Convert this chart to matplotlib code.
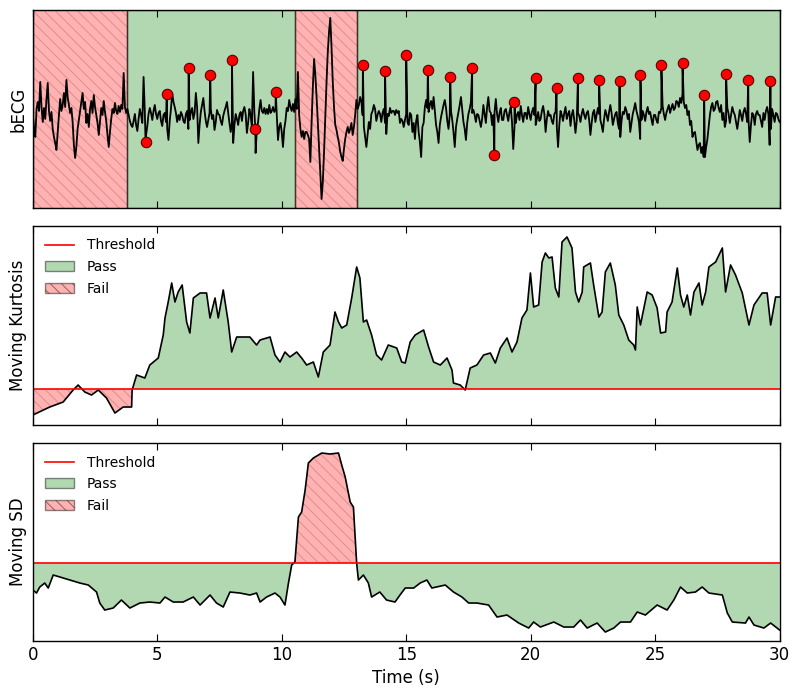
import numpy as np
import matplotlib
matplotlib.use('Agg')
import matplotlib.pyplot as plt
from matplotlib.patches import Patch
from matplotlib.lines import Line2D

# bECG samples, 0.05 s apart (0 .. 30 s), one row per second
ecg_v = [
    0.3, -1.2, -2.0, 0.8, 1.5, 0.6, 3.5, 1.0, -0.5, 0.9, -0.2, 1.8, 3.4, 0.6, -0.4, 0.5, -1.2, -2.0, -2.6, -3.3,
    -1.5, 0.2, 1.8, 0.6, 1.2, 2.4, 1.0, 3.7, 2.0, 1.2, 0.4, 0.9, -0.5, -2.8, -4.1, -3.0, -1.2, -0.3, 0.6, 1.5,
    2.4, 0.8, 1.5, -0.6, 0.3, -1.0, 0.8, 1.6, 0.4, 2.2, 1.0, 0.2, -0.6, -1.8, -0.4, 0.9, 0.2, 1.6, 0.5, -0.4,
    -1.8, -3.0, -1.5, -0.2, 0.8, 0.4, 1.4, 0.6, 0.3, 1.1, 0.5, 1.2, 0.8, 4.4, 1.0, 0.4, 0.8, 0.2, -0.4, -0.8,
    -1.0, -0.4, 0.3, -0.8, -1.4, -0.2, 0.8, 0.2, -0.6, 4.0, 0.5, -1.8, -0.9, 0.3, 0.9, 0.4, -0.3, 0.6, 1.2, 0.3,
    -0.2, 0.4, 0.6, -0.4, -0.9, 0.2, 0.4, -0.5, -1.2, -2.3, -0.4, 0.8, 2.4, 1.5, 1.0, 0.4, -0.5, 0.2, -0.3, 0.5,
    0.2, -0.4, -0.6, 0.3, 0.6, -1.2, -0.3, 0.5, 0.9, -0.2, 0.4, 2.4, 1.0, -2.6, -0.8, 0.5, 1.2, 1.9, 0.6, -0.4,
    -1.0, -0.3, 0.4, 0.8, -0.2, 0.2, -1.3, -0.5, 0.7, 0.3, 0.2, -0.4, -0.8, 0.1, 0.6, 1.0, 1.5, 0.4, -0.6, -1.5,
    -0.5, -2.6, -0.8, 0.3, -0.2, -0.8, 0.2, 0.5, -0.4, 0.6, 1.0, 0.3, -1.6, -0.6, 0.8, 0.2, -1.0, 4.5, 0.5, -3.6,
    -1.2, -0.5, 0.8, 1.7, 0.6, 0.4, 0.9, 0.3, 0.8, 0.3, 1.2, 0.4, 0.6, 1.0, 0.5, 0.8, 0.2, -2.3, -1.0, -0.6,
    -1.5, -3.0, -1.2, -0.4, 0.9, 0.6, 1.7, 1.0, 0.6, 1.3, 0.5, 1.8, 0.8, 4.5, 0.2, -1.2, -2.0, -1.4, -2.2, -1.5,
    -1.5, -1.8, -2.2, -4.5, -0.5, 3.0, 5.8, 4.2, 2.0, -0.5, -3.0, -5.5, -8.2, -6.5, -3.5, 0.0, 3.5, 6.5, 8.5, 9.9,
    7.0, 3.5, 1.0, -0.8, -1.3, -2.0, -2.6, -3.5, -4.0, -4.4, -3.2, -2.2, -1.5, -1.0, -1.6, -1.2, -0.6, -1.8, -1.0, 0.2,
    1.7, 0.8, 1.2, 2.0, 1.5, 0.2, -1.0, -2.0, -3.0, -1.8, -0.5, -1.2, 0.3, 0.6, 1.2, 0.8, -0.4, 0.2, 0.6, 0.3,
    -0.5, 0.4, 0.8, -0.6, -1.7, 0.3, 0.1, 0.9, 0.4, 0.6, 0.6, 0.2, 0.7, 0.4, 0.6, -0.6, -0.2, -0.4, -1.0, -0.3,
    0.3, -0.5, -0.8, 0.4, 0.2, -1.5, -0.6, -2.2, -0.4, 0.2, -1.5, -2.5, -4.0, -1.0, -0.6, 1.0, 1.7, 0.9, 0.5, 1.2,
    1.6, 0.8, 2.0, 0.6, -0.8, -1.5, -2.6, -0.8, 0.0, 0.6, 1.2, 1.7, 0.9, -0.4, -1.2, 0.2, 0.6, -0.3, -1.5, -3.0,
    -1.0, -0.2, 0.5, 1.2, 2.0, 0.8, -0.5, -1.2, -2.3, -0.6, 0.3, 0.8, 1.5, 0.4, 0.7, 0.2, -0.5, 0.3, 0.2, -0.4,
    -1.0, -0.2, 1.2, 0.3, -0.6, 1.0, 2.0, 0.6, 0.4, -0.8, 0.2, 0.5, 1.8, 0.3, -0.5, 0.4, 0.9, -0.3, -0.3, 0.6,
    0.8, 0.2, -0.4, 0.5, 1.0, -0.5, -3.2, -1.0, -0.6, 0.2, 0.5, -0.3, 1.1, 0.2, -0.5, 0.4, 0.4, -0.2, 1.0, 0.3,
    -0.3, 0.5, 0.9, 0.2, -0.8, -0.2, 0.5, -0.4, -0.2, 0.6, 1.1, 0.3, -1.5, -0.2, 0.6, 0.1, 0.2, -0.4, -0.7, 0.3,
    0.5, -1.0, -3.0, -0.8, 0.6, 0.2, -0.4, 0.4, 1.0, -0.2, 0.3, 0.6, -0.9, 0.2, 0.7, -0.3, -1.6, -0.4, 0.4, 0.1,
    -0.5, 0.3, 0.8, 0.2, -0.2, 0.4, 0.6, -0.3, -1.8, -0.6, 0.4, 0.7, -0.5, 0.2, 0.9, 0.3, -0.3, -0.8, -1.5, -0.2,
    0.7, 0.2, -0.4, 0.5, 1.2, 0.4, -0.8, -0.2, 0.3, 0.5, -0.6, -1.2, -2.0, -0.4, 0.5, 0.3, 1.0, 0.6, -0.2, 0.3,
    -1.5, -0.6, 0.3, 0.8, 1.4, 0.6, 0.1, -0.5, -2.2, -0.3, 0.6, 0.2, -0.4, 0.5, 1.0, 0.3, 0.5, -0.2, -0.8, 0.2,
    0.2, -0.3, -0.6, 0.5, 0.4, 0.9, 1.1, 0.3, -0.3, 0.4, 0.8, 1.2, 0.4, 0.9, 1.3, 0.7, 0.9, 1.6, 1.5, 1.0,
    1.9, 1.4, 2.3, 1.5, 0.9, 1.2, 0.2, 0.6, -0.8, -0.4, -2.0, -1.6, -1.5, -2.4, -3.3, -2.8, -2.6, -3.6, -3.0, -4.0,
    -4.0, -3.0, -2.2, -1.0, 0.2, 1.0, 1.4, 0.6, 0.8, 1.5, 1.6, 0.9, 0.5, 1.2, -0.3, 0.4, -1.0, -0.4, 0.9, 0.3,
    -0.6, 0.2, 1.0, 0.5, 0.2, -0.5, -1.2, -0.3, 0.7, 0.2, -0.4, 0.5, 0.9, 0.3, -0.5, -0.2, -2.5, -0.8, 0.4, 0.2,
    -0.8, 0.3, 0.6, 0.2, 0.2, -0.4, -1.0, 0.4, -0.3, 0.6, 1.0, 0.3, -2.8, -1.2, 0.8, 0.2, -0.5, 0.4, 0.3, -0.2,
    -0.5,
]

# detected beats
peak_t = [4.53, 5.38, 6.26, 7.13, 8.0, 8.94, 9.76, 13.26, 14.15, 15.0,
          15.87, 16.77, 17.65, 18.54, 19.35, 20.2, 21.04, 21.9, 22.75,
          23.57, 24.41, 25.25, 26.1, 26.97, 27.85, 28.74, 29.63]
peak_v = [-2.5, 2.27, 4.93, 4.17, 5.7, -1.23, 2.53, 5.17, 4.57, 6.2,
          4.73, 4.03, 4.87, -3.77, 1.53, 3.9, 2.93, 3.9, 3.67,
          3.57, 4.23, 5.2, 5.4, 2.2, 4.27, 3.73, 3.6]

# quality segments (start, end, passed)
seg_start = [0.0, 3.78, 10.53, 13.03]
seg_end = [3.78, 10.53, 13.03, 30.0]
seg_ok = [False, True, False, True]

kurt_t = [0.0, 0.68, 1.22, 1.62, 1.82, 2.09, 2.36, 2.63, 2.96, 3.3, 3.63, 3.97,
          3.99, 4.17, 4.5, 4.7, 5.04, 5.24, 5.31, 5.44, 5.58, 5.71, 5.84, 6.0,
          6.18, 6.31, 6.45, 6.72, 6.98, 7.12, 7.32, 7.45, 7.65, 7.85, 7.99, 8.19,
          8.72, 8.99, 9.13, 9.53, 9.73, 9.93, 10.13, 10.33, 10.6, 10.8, 11.0,
          11.27, 11.47, 11.67, 11.94, 12.14, 12.28, 12.41, 12.61, 12.81, 13.01,
          13.14, 13.28, 13.41, 13.61, 13.81, 14.01, 14.28, 14.62, 14.82, 14.96,
          15.16, 15.36, 15.7, 15.9, 16.1, 16.37, 16.64, 16.84, 16.9, 17.17,
          17.37, 17.57, 17.84, 18.11, 18.38, 18.58, 18.78, 19.05, 19.25, 19.45,
          19.65, 19.85, 19.99, 20.12, 20.32, 20.46, 20.59, 20.73, 20.86, 20.99,
          21.13, 21.26, 21.46, 21.66, 21.8, 21.93, 22.07, 22.13, 22.4, 22.53,
          22.74, 22.87, 23.0, 23.2, 23.4, 23.54, 23.74, 23.94, 24.14, 24.21,
          24.28, 24.41, 24.68, 24.88, 25.08, 25.22, 25.42, 25.48, 25.68, 25.89,
          26.02, 26.15, 26.29, 26.42, 26.56, 26.76, 26.89, 27.03, 27.16, 27.43,
          27.7, 27.83, 28.03, 28.23, 28.5, 28.77, 28.97, 29.3, 29.5, 29.64,
          29.84, 30.0]
kurt_v = [-2.6, -1.8, -1.3, -0.1, 0.4, -0.3, -0.6, -0.1, -0.9, -2.4, -1.8, -1.8,
          -0.1, 1.4, 1.1, 2.4, 3.1, 5.4, 7.1, 8.7, 10.6, 8.7, 9.7, 10.4,
          6.7, 5.6, 9.1, 9.6, 9.6, 7.1, 9.1, 7.1, 9.9, 6.7, 3.7, 5.2,
          5.2, 4.4, 4.9, 5.2, 3.4, 2.7, 3.7, 3.2, 3.7, 3.1, 2.4,
          2.7, 1.2, 3.7, 4.4, 7.7, 6.7, 6.1, 6.4, 9.1, 12.2,
          11.1, 6.7, 6.9, 5.4, 3.4, 2.9, 4.4, 4.1, 2.7, 2.6,
          4.7, 5.4, 5.9, 4.2, 2.7, 2.4, 3.1, 1.9, 0.6, 0.4,
          -0.1, 2.1, 2.4, 3.4, 3.6, 2.6, 4.1, 5.1, 3.7, 4.7,
          7.1, 7.9, 11.6, 8.2, 8.4, 12.7, 13.6, 13.1, 13.2, 10.1,
          9.2, 14.7, 15.2, 14.1, 9.7, 8.7, 9.7, 12.2, 12.6, 10.4,
          7.2, 7.7, 11.7, 12.6, 10.4, 7.4, 6.4, 4.9, 4.4, 3.9,
          8.2, 6.4, 9.7, 9.4, 8.1, 5.6, 5.7, 7.7, 8.7, 12.1,
          9.4, 8.2, 9.4, 7.4, 9.7, 10.6, 8.4, 9.7, 12.2, 12.7,
          14.1, 9.7, 12.4, 11.4, 9.6, 6.4, 8.4, 9.6, 9.6, 6.4,
          9.2, 9.2]
kurt_threshold = 0.0

sd_t = [0.0, 0.15, 0.28, 0.48, 0.62, 0.82, 1.09, 1.49, 1.89, 2.23, 2.56, 2.69,
        2.89, 3.23, 3.56, 3.9, 4.3, 4.7, 5.11, 5.31, 5.64, 6.04, 6.45, 6.72,
        7.12, 7.38, 7.65, 7.92, 8.32, 8.72, 8.99, 9.13, 9.39, 9.73, 9.93,
        10.13, 10.27, 10.4, 10.53, 10.67, 10.8, 10.94, 11.07, 11.27, 11.61,
        11.94, 12.28, 12.41, 12.55, 12.75, 12.88, 13.01, 13.08, 13.28, 13.48,
        13.61, 13.94, 14.21, 14.55, 14.75, 14.96, 15.3, 15.56, 15.83, 16.03,
        16.57, 16.9, 17.24, 17.51, 17.84, 18.31, 18.65, 19.05, 19.52, 19.92,
        20.12, 20.39, 20.93, 21.33, 21.73, 22.0, 22.27, 22.67, 23.0, 23.34,
        23.61, 24.01, 24.28, 24.61, 25.08, 25.48, 25.75, 26.02, 26.29, 26.62,
        26.89, 27.16, 27.7, 27.9, 28.1, 28.63, 28.77, 28.97, 29.37, 29.64,
        30.0]
sd_v = [-2.7, -3.0, -2.4, -2.0, -2.5, -1.2, -1.4, -1.7, -2.0, -2.2, -2.9, -4.0,
        -4.7, -4.5, -3.7, -4.5, -4.0, -3.9, -4.0, -3.4, -3.9, -3.9, -3.4, -4.2,
        -3.2, -4.0, -4.4, -2.9, -3.0, -3.2, -3.0, -3.9, -3.4, -3.0, -3.4,
        -4.2, -2.0, -0.2, 0.1, 4.6, 5.1, 7.3, 10.0, 10.5, 11.0,
        10.9, 11.0, 9.8, 8.6, 6.1, 5.6, -0.03, -1.7, -1.2, -2.0,
        -3.4, -2.9, -3.7, -3.9, -3.2, -2.5, -2.5, -2.0, -1.7, -2.5,
        -2.2, -2.9, -3.4, -4.0, -4.0, -4.2, -5.4, -5.2, -6.0, -6.5,
        -5.9, -6.4, -5.9, -6.4, -6.4, -5.7, -6.5, -6.0, -6.9, -6.5,
        -5.9, -5.9, -4.9, -5.2, -4.2, -4.7, -3.7, -2.4, -3.0, -2.9,
        -2.4, -3.0, -3.2, -5.0, -5.9, -6.0, -5.4, -6.2, -6.5, -6.0,
        -6.7]
sd_threshold = 0.0

GREEN = (0.0, 0.5, 0.0, 0.3)
RED = (1.0, 0.0, 0.0, 0.3)
RED_HATCH = (0.55, 0.1, 0.1, 0.25)
EDGE = (0.0, 0.0, 0.0, 0.45)
HATCH = '\\\\\\'

plt.rcParams['hatch.linewidth'] = 0.7

ecg_t = np.linspace(0, 30, len(ecg_v))
sig_t = np.concatenate([ecg_t, peak_t])
sig_v = np.concatenate([ecg_v, peak_v])
order = np.argsort(sig_t, kind='stable')
sig_t, sig_v = sig_t[order], sig_v[order]

fig = plt.figure(figsize=(8, 6.97), dpi=100)
left, width = 0.041, 0.9335
ax1 = fig.add_axes([left, 0.7016, width, 0.2841])
ax2 = fig.add_axes([left, 0.3902, width, 0.2856])
ax3 = fig.add_axes([left, 0.0803, width, 0.2841])

for ok, a, b in zip(seg_ok, seg_start, seg_end):
    if ok:
        ax1.axvspan(a, b, facecolor=GREEN, edgecolor=EDGE, lw=1)
    else:
        ax1.axvspan(a, b, facecolor=RED, edgecolor=RED_HATCH, lw=1, hatch=HATCH)
        ax1.axvline(a, color=EDGE, lw=1)
        ax1.axvline(b, color=EDGE, lw=1)
ax1.plot(sig_t, sig_v, color='k', lw=1.3)
ax1.plot(peak_t, peak_v, 'o', color='r', mec='#5a0000', ms=7.5, mew=0.8)
ax1.set_ylim(-9.1, 10.7)
ax1.set_ylabel('bECG', fontsize=12)


def quality_panel(ax, t, v, thr, above_ok, label):
    t = np.asarray(t)
    v = np.asarray(v)
    if above_ok:
        good, bad = v >= thr, v <= thr
    else:
        good, bad = v <= thr, v >= thr
    ax.fill_between(t, v, thr, where=good, interpolate=True,
                    facecolor=GREEN, edgecolor='none')
    ax.fill_between(t, v, thr, where=bad, interpolate=True,
                    facecolor=RED, edgecolor=RED_HATCH, lw=0, hatch=HATCH)
    ax.plot(t, v, color='k', lw=1.2)
    ax.axhline(thr, color='r', lw=1.2)
    handles = [Line2D([], [], color='r', lw=1.2),
               Patch(facecolor=GREEN, edgecolor=EDGE),
               Patch(facecolor=RED, edgecolor=EDGE, hatch=HATCH)]
    ax.legend(handles, ['Threshold', 'Pass', 'Fail'], loc='upper left',
              frameon=False, fontsize=10, handlelength=2.1,
              handletextpad=0.9, labelspacing=0.55, borderaxespad=0.5)
    ax.set_ylabel(label, fontsize=12)


quality_panel(ax2, kurt_t, kurt_v, kurt_threshold, True, 'Moving Kurtosis')
ax2.set_ylim(-3.6, 16.3)
quality_panel(ax3, sd_t, sd_v, sd_threshold, False, 'Moving SD')
ax3.set_ylim(-7.8, 12.0)

for ax in (ax1, ax2, ax3):
    ax.set_xlim(0, 30)
    ax.set_xticks(np.arange(0, 31, 5))
    ax.set_yticks([])
    ax.tick_params(axis='x', direction='in', top=True, length=5, labelsize=12)
    for s in ax.spines.values():
        s.set_linewidth(1.0)
ax1.tick_params(labelbottom=False)
ax2.tick_params(labelbottom=False)
ax3.set_xlabel('Time (s)', fontsize=12)

fig.savefig('out.png', dpi=100)
